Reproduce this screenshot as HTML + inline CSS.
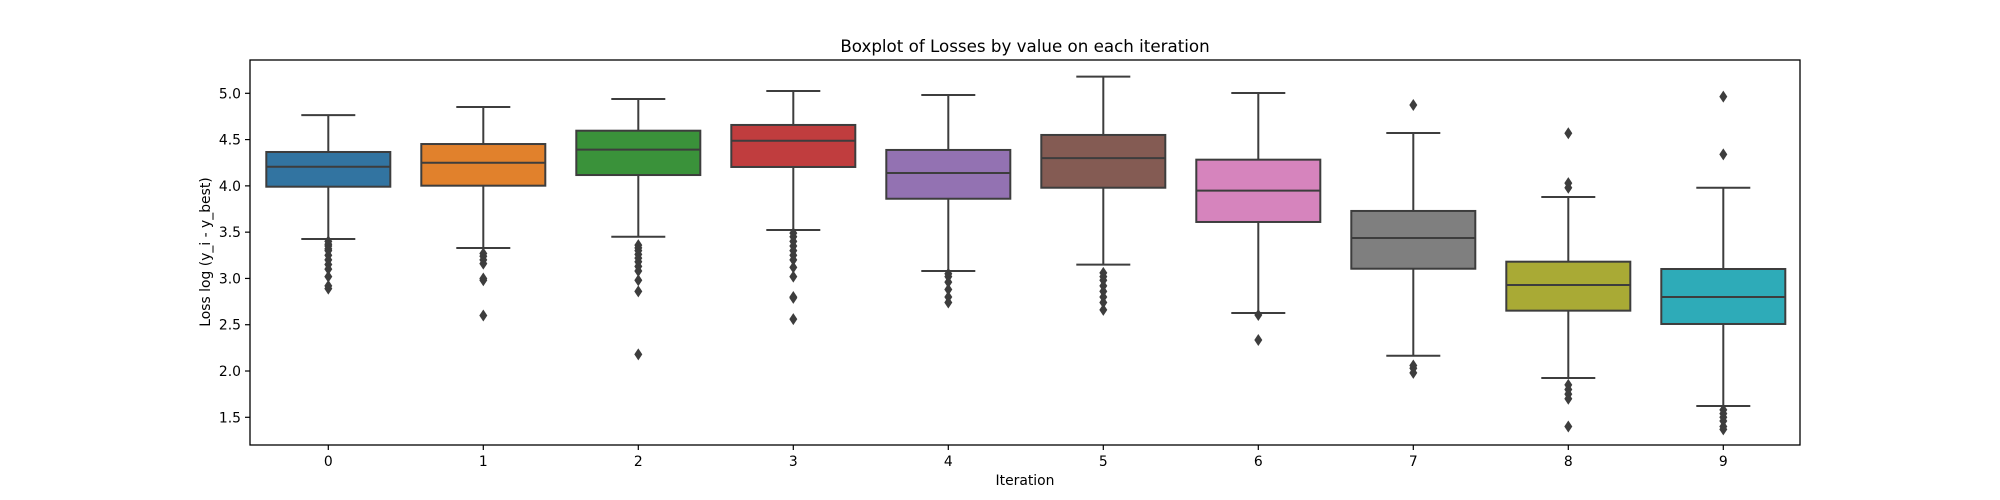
<!DOCTYPE html>
<html><head><meta charset="utf-8"><style>
html,body{margin:0;padding:0;background:#fff;}
svg{display:block;font-family:"DejaVu Sans","Liberation Sans",sans-serif;}
</style></head><body>
<svg id="chart" width="2000" height="500" viewBox="0 0 2000 500" xmlns="http://www.w3.org/2000/svg">
<rect width="2000" height="500" fill="#fff"/>
<g id="plot"></g>
<rect x="250" y="60" width="1550" height="385" fill="none" stroke="#000" stroke-width="1.3"/>
<text x="1025" y="52" font-size="16.7" text-anchor="middle" fill="#000">Boxplot of Losses by value on each iteration</text>
<text x="1025" y="485" font-size="13.9" text-anchor="middle" fill="#000">Iteration</text>
<text transform="translate(210,252) rotate(-90)" font-size="13.9" text-anchor="middle" fill="#000">Loss log (y_i - y_best)</text>
</svg>
<script>
const categories = ["0","1","2","3","4","5","6","7","8","9"];
const whiskerLow = [3.426,3.329,3.451,3.523,3.080,3.149,2.627,2.165,1.924,1.622];
const q1 = [3.991,4.002,4.117,4.204,3.861,3.98,3.61,3.105,2.652,2.508];
const median = [4.207,4.25,4.391,4.488,4.139,4.30,3.948,3.437,2.929,2.80];
const q3 = [4.366,4.452,4.596,4.658,4.388,4.55,4.283,3.729,3.181,3.102];
const whiskerHigh = [4.764,4.852,4.938,5.025,4.982,5.18,5.003,4.571,3.88,3.98];
const outliers = [
  [3.40,3.37,3.35,3.32,3.30,3.25,3.20,3.15,3.10,3.02,2.92,2.89],
  [3.27,3.24,3.20,3.16,3.00,2.98,2.60],
  [3.36,3.33,3.30,3.26,3.22,3.18,3.13,3.08,2.98,2.86,2.18],
  [3.49,3.45,3.40,3.35,3.30,3.25,3.20,3.12,3.02,2.80,2.79,2.56],
  [3.05,3.02,2.96,2.88,2.80,2.74],
  [3.06,3.02,2.98,2.92,2.86,2.80,2.74,2.66],
  [2.605,2.335],
  [4.873,2.06,2.03,1.98],
  [4.568,4.03,3.98,1.85,1.80,1.75,1.70,1.40],
  [4.964,4.34,1.58,1.54,1.50,1.46,1.40,1.37]
];
const colors = ["#3274a1","#e1812c","#3a923a","#c03d3e","#9372b2","#845b53","#d684bd","#7f7f7f","#a9aa35","#2eabb8"];
const yTicks = [1.5,2.0,2.5,3.0,3.5,4.0,4.5,5.0];
const yTickLabels = ["1.5","2.0","2.5","3.0","3.5","4.0","4.5","5.0"];

const NS = "http://www.w3.org/2000/svg";
const plot = document.getElementById("plot");
const X0 = 328.3, STEP = 155;
function xPos(i){ return X0 + i*STEP; }
function yPos(v){ return 93.3 + (5 - v)*92.57; }
function mk(tag, attrs){ const e=document.createElementNS(NS,tag); for(const k in attrs) e.setAttribute(k,attrs[k]); plot.appendChild(e); return e; }
const LC = "#3d3d3d", LW = 2;

yTicks.forEach((t,i)=>{
  const y=yPos(t);
  const tk=mk("line",{x1:245,x2:250,y1:y,y2:y,stroke:"#000","stroke-width":1.2});
  
  
  const lb=mk("text",{x:241,y:y+5,"font-size":13.9,"text-anchor":"end",fill:"#000"});
  lb.textContent=yTickLabels[i];
  
  
});

categories.forEach((c,i)=>{
  const cx=xPos(i), hw=STEP*0.4, cap=27;
  const tk=mk("line",{x1:cx,x2:cx,y1:445,y2:450,stroke:"#000","stroke-width":1.2});
  
  
  const lb=mk("text",{x:cx,y:466,"font-size":13.9,"text-anchor":"middle",fill:"#000"});
  lb.textContent=c;
  
  

  const w1=mk("line",{x1:cx,x2:cx,y1:yPos(q3[i]),y2:yPos(whiskerHigh[i]),stroke:LC,"stroke-width":LW});
  
  
  const w2=mk("line",{x1:cx,x2:cx,y1:yPos(q1[i]),y2:yPos(whiskerLow[i]),stroke:LC,"stroke-width":LW});
  
  
  const c1=mk("line",{x1:cx-cap,x2:cx+cap,y1:yPos(whiskerHigh[i]),y2:yPos(whiskerHigh[i]),stroke:LC,"stroke-width":LW});
  
  
  const c2=mk("line",{x1:cx-cap,x2:cx+cap,y1:yPos(whiskerLow[i]),y2:yPos(whiskerLow[i]),stroke:LC,"stroke-width":LW});
  
  
  const b=mk("rect",{x:cx-hw,y:yPos(q3[i]),width:2*hw,height:yPos(q1[i])-yPos(q3[i]),fill:colors[i],stroke:LC,"stroke-width":LW});
  
  
  const m=mk("line",{x1:cx-hw,x2:cx+hw,y1:yPos(median[i]),y2:yPos(median[i]),stroke:LC,"stroke-width":LW});
  
  
  outliers[i].forEach(v=>{
    const y=yPos(v);
    const d=mk("polygon",{points:`${cx},${y-6} ${cx+4},${y} ${cx},${y+6} ${cx-4},${y}`,fill:LC});
    
    
  });
});
</script>
</body></html>
